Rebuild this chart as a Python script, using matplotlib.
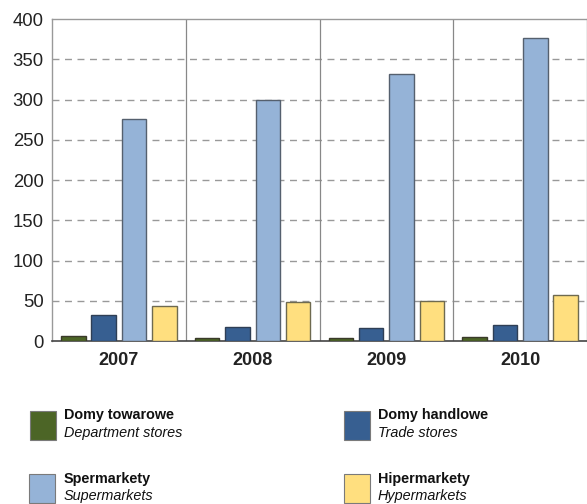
import matplotlib
matplotlib.use("Agg")
import matplotlib.pyplot as plt
from matplotlib.patches import Rectangle
import numpy as np

years = ["2007", "2008", "2009", "2010"]
department = [6, 4, 4, 5]
trade = [32, 17, 16, 20]
supermarkets = [276, 300, 332, 377]
hypermarkets = [43, 48, 50, 57]

series_pl = ["Domy towarowe", "Domy handlowe", "Spermarkety", "Hipermarkety"]
series_en = ["Department stores", "Trade stores", "Supermarkets", "Hypermarkets"]
colors = ["#4c6526", "#375f91", "#95b3d7", "#ffdf7f"]
edges = ["#3a3a2a", "#2f3f55", "#55606e", "#6e6a50"]
yticks = [0, 50, 100, 150, 200, 250, 300, 350, 400]

plt.rcParams['font.family'] = ['Liberation Sans', 'DejaVu Sans']

fig = plt.figure(figsize=(5.87, 5.04), dpi=100)
ax = fig.add_axes([0.0886, 0.3234, 0.9114, 0.6389])

x = np.arange(len(years))
w = 0.183
offs = [-0.341, -0.114, 0.114, 0.341]
data = [department, trade, supermarkets, hypermarkets]
for i, vals in enumerate(data):
    ax.bar(x + offs[i], vals, width=w, color=colors[i], edgecolor=edges[i],
           linewidth=1.0, zorder=3)

ax.set_xlim(-0.5, 3.5)
ax.set_ylim(0, 400)
ax.set_yticks(yticks)
ax.set_yticklabels([str(t) for t in yticks], fontsize=13.3, color="#222222")
ax.set_xticks(x)
ax.set_xticklabels(years, fontsize=13, fontweight="bold", color="#222222")
ax.tick_params(axis="both", length=0)
ax.tick_params(axis="y", pad=6)
ax.tick_params(axis="x", pad=8)

for yv in yticks[1:-1]:
    ax.axhline(yv, color="#999999", linestyle=(0, (5, 4)), linewidth=1.0, zorder=1)
for xv in [0.5, 1.5, 2.5]:
    ax.axvline(xv, color="#888888", linewidth=0.9, zorder=1)

for s in ["top", "left", "right"]:
    ax.spines[s].set_color("#999999")
    ax.spines[s].set_linewidth(1.0)
ax.spines["bottom"].set_color("#444444")
ax.spines["bottom"].set_linewidth(1.2)

# legend
W, H = 587.0, 504.0
leg_pos = [(30, 411, 64), (344, 411, 378), (29, 474, 64), (344, 474, 378)]
for i, (px, py, tx) in enumerate(leg_pos):
    fig.patches.append(Rectangle((px / W, 1 - (py + 29) / H), 26 / W, 29 / H,
                                 transform=fig.transFigure, facecolor=colors[i],
                                 edgecolor="#7a7a7a", linewidth=0.8))
    fig.text(tx / W, 1 - (py + 4.5) / H, series_pl[i], fontsize=10.4,
             fontweight="bold", va="center", ha="left", color="#111111")
    fig.text(tx / W, 1 - (py + 22) / H, series_en[i], fontsize=10.4,
             style="italic", va="center", ha="left", color="#111111")

fig.savefig("out.png", dpi=100)
